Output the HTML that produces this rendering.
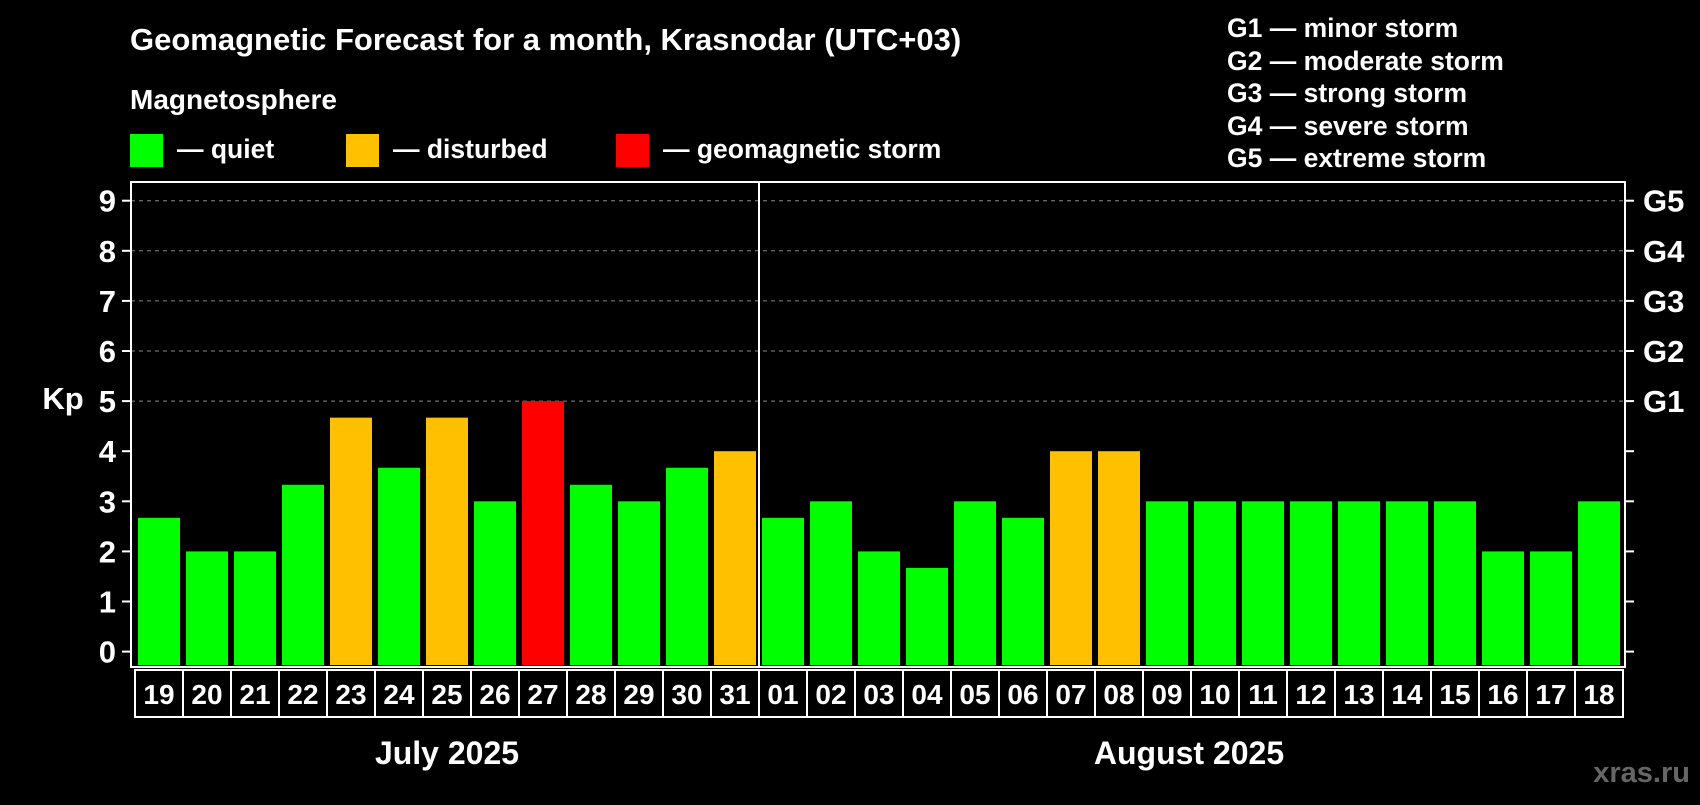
<!DOCTYPE html>
<html><head><meta charset="utf-8"><style>
body{margin:0;background:#000;width:1700px;height:800px;overflow:hidden;font-family:"Liberation Sans",Arial,sans-serif;}
</style></head><body>
<svg width="1700" height="800" xmlns="http://www.w3.org/2000/svg" font-family="Liberation Sans, Arial, sans-serif" font-weight="bold">
<rect width="1700" height="800" fill="#000"/>
<text x="130" y="50" fill="#fff" font-size="31">Geomagnetic Forecast for a month, Krasnodar (UTC+03)</text>
<text x="130" y="109" fill="#fff" font-size="28">Magnetosphere</text>
<g>
<rect x="130" y="134" width="33" height="33" fill="#00ff00"/>
<text x="177" y="158" fill="#fff" font-size="26.5">— quiet</text>
<rect x="346" y="134" width="33" height="33" fill="#ffc000"/>
<text x="393" y="158" fill="#fff" font-size="26.5">— disturbed</text>
<rect x="616" y="134" width="33" height="33" fill="#ff0000"/>
<text x="663" y="158" fill="#fff" font-size="26.5">— geomagnetic storm</text>
</g>
<g fill="#fff" font-size="26.5">
<text x="1227" y="37">G1 — minor storm</text>
<text x="1227" y="70">G2 — moderate storm</text>
<text x="1227" y="102">G3 — strong storm</text>
<text x="1227" y="135">G4 — severe storm</text>
<text x="1227" y="167">G5 — extreme storm</text>
</g>
<text x="63" y="409" fill="#fff" font-size="31" text-anchor="middle">Kp</text>
<g id="grid"></g><g id="bars"></g><g id="axes"></g>
<text x="447" y="764" fill="#fff" font-size="32" text-anchor="middle">July 2025</text>
<text x="1189" y="764" fill="#fff" font-size="32" text-anchor="middle">August 2025</text>
<text x="1690" y="782" fill="#666" font-size="29" text-anchor="end">xras.ru</text>
</svg>
<script>
const days=["19","20","21","22","23","24","25","26","27","28","29","30","31","01","02","03","04","05","06","07","08","09","10","11","12","13","14","15","16","17","18"];
const kp=[2.67,2,2,3.33,4.67,3.67,4.67,3,5,3.33,3,3.67,4,2.67,3,2,1.67,3,2.67,4,4,3,3,3,3,3,3,3,2,2,3];
const yTicks=[0,1,2,3,4,5,6,7,8,9];
const gLabels=["","","","","","G1","G2","G3","G4","G5"];
const NS="http://www.w3.org/2000/svg";
const L=131,R=1625,T=182,B=667;
const y=v=>651.6-v*50.1;
const x=i=>138+i*48;
function mk(t,a,p){const e=document.createElementNS(NS,t);for(const k in a)e.setAttribute(k,a[k]);p.appendChild(e);return e;}
const grid=document.getElementById('grid'),bars=document.getElementById('bars'),axes=document.getElementById('axes');
yTicks.forEach((v,i)=>{
  if(v>=5){const g=mk('line',{x1:L,x2:R,y1:y(v),y2:y(v),stroke:'#888','stroke-dasharray':'4,4','stroke-width':1},grid);
  
  }
  const t=mk('line',{x1:L-9,x2:L,y1:y(v),y2:y(v),stroke:'#fff','stroke-width':2},axes);
  
  
  const t2=mk('line',{x1:R,x2:R+9,y1:y(v),y2:y(v),stroke:'#fff','stroke-width':2},axes);
  
  
  const lb=mk('text',{x:116,y:y(v)+11,fill:'#fff','font-size':31,'text-anchor':'end'},axes);lb.textContent=v;
  
  
  if(gLabels[i]){const g=mk('text',{x:1643,y:y(v)+11,fill:'#fff','font-size':31},axes);g.textContent=gLabels[i];
  
  }
});
kp.forEach((v,i)=>{
  const c=v>=5?'#ff0000':(v>=4?'#ffc000':'#00ff00');
  const r=mk('rect',{x:x(i),y:y(v),width:42,height:B-2-y(v),fill:c},bars);
  
  
  const bx=mk('rect',{x:x(i)-3,y:670,width:48,height:47,fill:'none',stroke:'#fff','stroke-width':2},axes);
  
  
  const t=mk('text',{x:x(i)+21,y:704,fill:'#fff','font-size':28,'text-anchor':'middle'},axes);t.textContent=days[i];
  
  
});
const f=mk('rect',{x:L,y:T,width:R-L,height:B-T,fill:'none',stroke:'#fff','stroke-width':2},axes);


const d=mk('line',{x1:759,x2:759,y1:T,y2:B,stroke:'#fff','stroke-width':2},axes);


</script>
</body></html>
